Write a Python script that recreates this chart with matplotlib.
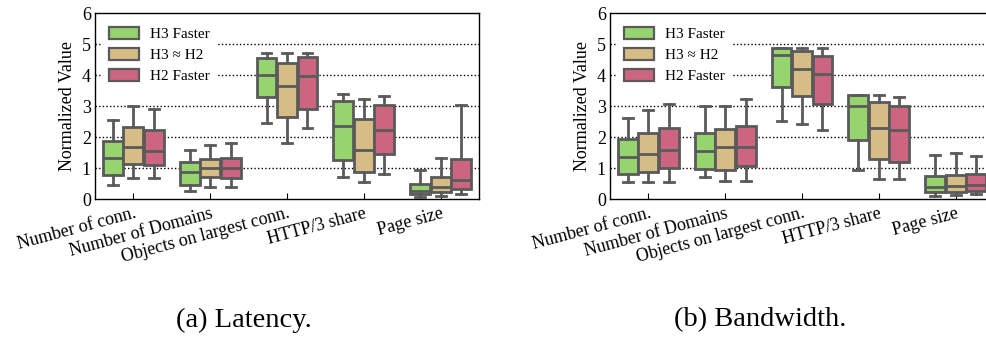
import matplotlib
matplotlib.use("Agg")
import matplotlib.pyplot as plt
from matplotlib.patches import Patch
import numpy as np

plt.rcParams['font.family'] = ['Liberation Serif', 'DejaVu Serif']
plt.rcParams['mathtext.fontset'] = 'stix'

categories = ["Number of conn.", "Number of Domains", "Objects on largest conn.",
              "HTTP/3 share", "Page size"]
series = ["H3 Faster", "H3 \u2248 H2", "H2 Faster"]
colors = ["#96d46e", "#d6bd85", "#cc6680"]
edge = "#5a5a5a"

# Latency: [whislo, q1, med, q3, whishi] per category
lat_h3 = [[0.45, 0.80, 1.34, 1.87, 2.56],
          [0.27, 0.46, 0.87, 1.19, 1.59],
          [2.45, 3.31, 4.02, 4.57, 4.73],
          [0.71, 1.26, 2.38, 3.17, 3.39],
          [0.06, 0.16, 0.27, 0.49, 0.94]]
lat_eq = [[0.68, 1.14, 1.69, 2.33, 3.01],
          [0.40, 0.71, 1.01, 1.31, 1.74],
          [1.81, 2.66, 3.67, 4.39, 4.71],
          [0.56, 0.88, 1.60, 2.59, 3.25],
          [0.12, 0.23, 0.41, 0.73, 1.33]]
lat_h2 = [[0.68, 1.12, 1.56, 2.24, 2.90],
          [0.40, 0.69, 1.00, 1.33, 1.81],
          [2.30, 2.90, 3.97, 4.60, 4.73],
          [0.81, 1.46, 2.25, 3.03, 3.32],
          [0.16, 0.34, 0.62, 1.29, 3.03]]

# Bandwidth
bw_h3 = [[0.57, 0.81, 1.38, 1.95, 2.63],
         [0.72, 0.97, 1.56, 2.14, 3.00],
         [2.54, 3.62, 4.66, 4.89, 4.89],
         [0.95, 1.90, 3.01, 3.35, 3.38],
         [0.11, 0.25, 0.40, 0.74, 1.43]]
bw_eq = [[0.57, 0.89, 1.47, 2.15, 2.88],
         [0.59, 0.95, 1.68, 2.27, 3.00],
         [2.42, 3.34, 4.20, 4.78, 4.89],
         [0.67, 1.29, 2.31, 3.15, 3.38],
         [0.14, 0.25, 0.44, 0.78, 1.48]]
bw_h2 = [[0.57, 1.02, 1.59, 2.30, 3.09],
         [0.59, 1.09, 1.69, 2.38, 3.24],
         [2.23, 3.08, 4.05, 4.62, 4.89],
         [0.67, 1.20, 2.24, 3.02, 3.31],
         [0.16, 0.26, 0.46, 0.82, 1.40]]

captions = ["(a) Latency.", "(b) Bandwidth."]
yticks = [0, 1, 2, 3, 4, 5, 6]

W, H = 987, 340
fig = plt.figure(figsize=(W / 100, H / 100), dpi=100)
LW = 2.0

def make_ax(left_px):
    return fig.add_axes([left_px / W, (H - 199.3) / H, 384 / W, 186 / H])

def draw(ax, data_sets):
    n = len(data_sets)
    bw = 0.8 / n
    for si, data in enumerate(data_sets):
        stats = []
        for vals in data:
            lo, q1, med, q3, hi = vals
            stats.append(dict(whislo=lo, q1=q1, med=med, q3=q3, whishi=hi, fliers=[]))
        pos = np.arange(len(data)) + (si - (n - 1) / 2) * bw
        ax.bxp(stats, positions=pos, widths=bw * 0.97, patch_artist=True,
               showfliers=False, manage_ticks=False,
               boxprops=dict(facecolor=colors[si], edgecolor=edge, linewidth=LW),
               medianprops=dict(color=edge, linewidth=LW),
               whiskerprops=dict(color=edge, linewidth=LW),
               capprops=dict(color=edge, linewidth=LW), zorder=3)
    ax.set_xlim(-0.5, len(categories) - 0.5)
    ax.set_ylim(0, 6)
    ax.set_yticks(yticks)
    ax.set_xticks(np.arange(len(categories)))
    ax.set_xticklabels(categories, rotation=15, ha='right', rotation_mode='anchor',
                       fontsize=13)
    ax.tick_params(axis='y', labelsize=13, length=0, pad=3)
    ax.tick_params(axis='x', direction='in', length=4, pad=4)
    ax.set_ylabel("Normalized Value", fontsize=13, labelpad=4)
    for y in yticks[1:-1]:
        ax.axhline(y, color='black', linestyle=(0, (1, 1.6)), linewidth=1.0, zorder=1)
    for s in ax.spines.values():
        s.set_linewidth(1.0)
    handles = [Patch(facecolor=c, edgecolor=edge, linewidth=1.6) for c in colors]
    leg = ax.legend(handles, series, loc='upper left', fontsize=11, frameon=True,
                    framealpha=1, facecolor='white', edgecolor='none',
                    handlelength=2.0, handleheight=0.8, handletextpad=0.7,
                    labelspacing=0.45, borderaxespad=0.4, borderpad=0.5)
    leg.set_zorder(2)

ax1 = make_ax(95)
draw(ax1, [lat_h3, lat_eq, lat_h2])
ax2 = make_ax(610)
draw(ax2, [bw_h3, bw_eq, bw_h2])

fig.text(244 / W, 1 - 320 / H, captions[0], ha='center', va='center', fontsize=20.5)
fig.text(760 / W, 1 - 320 / H, captions[1], ha='center', va='center', fontsize=20.5)

fig.savefig("out.png", dpi=100)
